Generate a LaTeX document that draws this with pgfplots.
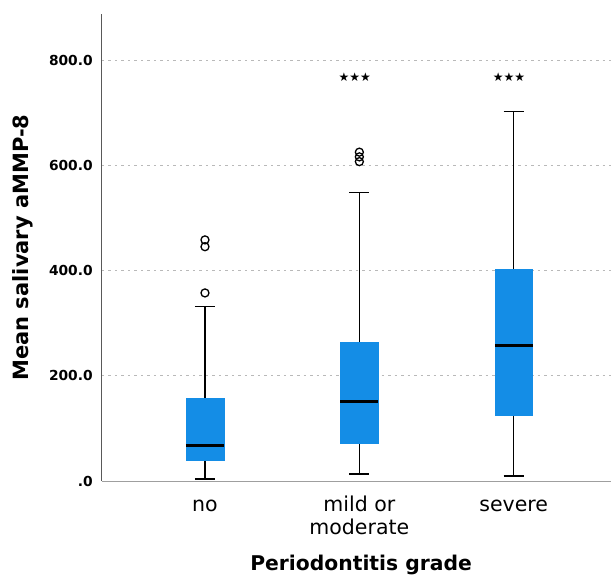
\documentclass[border=0pt]{standalone}
\usepackage{fontspec}
\setmainfont{DejaVu Sans}
\usepackage{pgfplots}
\pgfplotsset{compat=1.18}
\definecolor{boxblue}{RGB}{20,141,230}
% box half width 0.123, cap half width 0.065 (axis units)
\begin{document}
\begin{tikzpicture}
\begin{axis}[
  scale only axis,
  width=509pt, height=467pt,
  xmin=0.333, xmax=3.63,
  ymin=0, ymax=889,
  axis x line=bottom, axis y line=left,
  x axis line style={-, draw=gray!75, line width=1pt},
  y axis line style={-, draw=black!65, line width=1pt},
  xtick={1,2,3},
  xticklabels={\strut no, {\strut mild or\\moderate}, \strut severe},
  xticklabel style={font=\fontsize{20.5}{22.5}\selectfont, align=center, anchor=north, inner sep=0pt, yshift=-12.5pt},
  ytick={0,200,400,600,800},
  yticklabels={.0,200.0,400.0,600.0,800.0},
  yticklabel style={font=\fontsize{13.8}{16}\selectfont\bfseries, anchor=east, inner sep=0pt, xshift=-7pt},
  tick style={draw=none},
  ymajorgrids,
  major grid style={draw=gray!55, line width=1pt, dash pattern=on 2.5pt off 4pt},
  xlabel={Periodontitis grade},
  xlabel style={font=\fontsize{20.3}{24}\selectfont\bfseries, at={(axis description cs:0.509,-0.1906)}, anchor=base},
  ylabel={Mean salivary aMMP-8},
  ylabel style={font=\fontsize{21}{24}\selectfont\bfseries, at={(axis description cs:-0.1444,0.5)}, anchor=base},
  whisk/.style={black, line width=1.5pt, mark=none},
  box/.style={fill=boxblue, draw=boxblue, line width=0.5pt, mark=none},
  med/.style={black, line width=3pt, mark=none},
  outl/.style={only marks, mark=o, mark size=4pt, black, line width=1.3pt},
]
% whiskers: (lower whisker) -- (upper whisker), with caps
\addplot[whisk] coordinates {(1,4) (1,332)};
\addplot[whisk] coordinates {(0.935,4) (1.065,4)};
\addplot[whisk] coordinates {(0.935,332) (1.065,332)};
\addplot[whisk] coordinates {(2,13) (2,549)};
\addplot[whisk] coordinates {(1.935,13) (2.065,13)};
\addplot[whisk] coordinates {(1.935,549) (2.065,549)};
\addplot[whisk] coordinates {(3,9.5) (3,703)};
\addplot[whisk] coordinates {(2.935,9.5) (3.065,9.5)};
\addplot[whisk] coordinates {(2.935,703) (3.065,703)};
% boxes: lower quartile to upper quartile
\addplot[box] coordinates {(0.877,38.7) (1.123,38.7) (1.123,157.5) (0.877,157.5)} -- cycle;
\addplot[box] coordinates {(1.877,71.7) (2.123,71.7) (2.123,263.5) (1.877,263.5)} -- cycle;
\addplot[box] coordinates {(2.877,125.7) (3.123,125.7) (3.123,403.8) (2.877,403.8)} -- cycle;
% medians
\addplot[med] coordinates {(0.877,66.7) (1.123,66.7)};
\addplot[med] coordinates {(1.877,152) (2.123,152)};
\addplot[med] coordinates {(2.877,258.4) (3.123,258.4)};
% outliers
\addplot[outl] coordinates {(1,358) (1,446) (1,459)};
\addplot[outl] coordinates {(2,608) (2,617) (2,626)};
\node[font=\fontsize{12}{12}\selectfont] at (axis cs:1.97,768) {★★★};
\node[font=\fontsize{12}{12}\selectfont] at (axis cs:2.97,768) {★★★};
\end{axis}
\pgfresetboundingbox
\useasboundingbox (-102pt,-93pt) rectangle (509pt,481pt);
\end{tikzpicture}
\end{document}
